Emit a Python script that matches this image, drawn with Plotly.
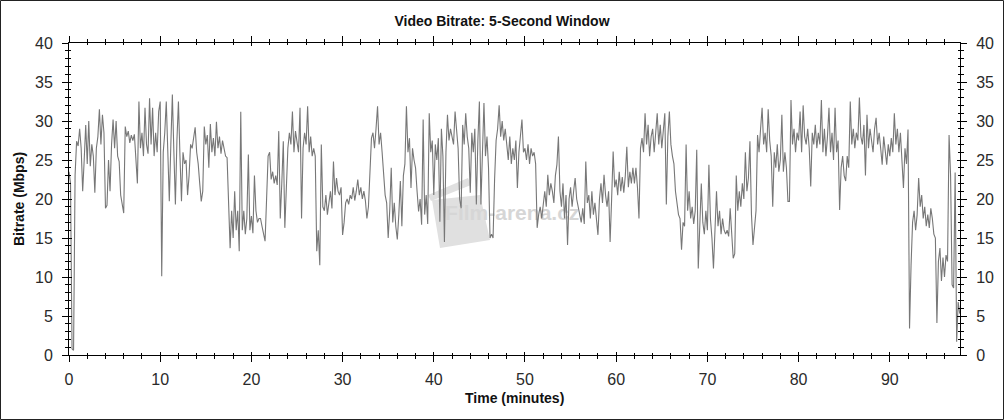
import plotly.graph_objects as go

# ---- data ----
TIME_STEP_MIN = 1 / 6  # one reading every 10 seconds
BITRATE_MBPS = [
    23.5, 22, 0.8, 0.6, 23, 27.4,        # 0
    26.8, 29, 26.5, 21, 25, 29.5,        # 1
    24.5, 30, 24.2, 27, 25.5, 20.8,      # 2
    26.5, 28, 31.5, 27, 30.8, 28.5,      # 3
    18.8, 19.2, 25, 21, 27, 30.2,        # 4
    26.5, 30, 25.5, 24.8, 20.5, 19.5,    # 5
    18.2, 29.3, 28, 28.7, 27.2, 28.2,    # 6
    27.5, 28.3, 25, 22, 32.5, 26.5,      # 7
    28.5, 25.5, 31.7, 27, 25.8, 32.9,    # 8
    27, 31.7, 25.5, 28.5, 26, 31.2,      # 9
    32.5, 10.1, 26, 28.5, 32.5, 25.5,    # 10
    19.7, 27, 33.4, 26, 19.3, 27.5,      # 11
    32.5, 25.5, 19.7, 26, 24.5, 25,      # 12
    20.5, 23, 27, 26.5, 27.8, 29.2,      # 13
    26, 24.5, 22, 19.7, 21, 29.3,        # 14
    27, 28.2, 24, 29.6, 26, 27.8,        # 15
    25.5, 29.9, 26.5, 28, 25.8, 27.5,    # 16
    26.5, 25.5, 25.3, 20.5, 13.7, 18.5,  # 17
    15, 21, 16, 18.5, 13.3, 31.2,        # 18
    16, 18.5, 15.5, 17.5, 25.7, 16,      # 19
    17.8, 15.6, 23, 18.5, 17, 17.5,      # 20
    17.5, 16.5, 15.5, 14.6, 20, 25.5,    # 21
    26, 22.5, 23.5, 22, 23, 21.8,        # 22
    28.7, 17.5, 22, 27.4, 16.3, 21,      # 23
    26.5, 28.5, 27, 31.2, 26, 28.7,      # 24
    27.5, 26, 31.7, 17.5, 26.5, 28.5,    # 25
    27, 31.9, 26, 28, 25.5, 26.5,        # 26
    25.5, 13.3, 16, 11.5, 27, 19,        # 27
    18.5, 20.5, 18, 19.5, 21, 18.8,      # 28
    24.8, 20.5, 22.7, 21, 20.5, 21.5,    # 29
    15.4, 17, 19.5, 20, 19.3, 20.5,      # 30
    20, 21.5, 19.8, 21, 22.5, 20.5,      # 31
    21.5, 20, 21, 19.8, 17.5, 19,        # 32
    24, 27.8, 28.5, 26.5, 29, 31.9,      # 33
    27, 28.5, 26, 23, 20.5, 19.5,        # 34
    15, 18.5, 24, 17, 19.5, 16.5,        # 35
    14.8, 18, 22.3, 16.5, 23, 24.5,      # 36
    31.9, 26, 27.8, 21.4, 26.5, 25,      # 37
    24, 21, 18.4, 20, 16.7, 30.2,        # 38
    18, 20.5, 16.8, 31, 26, 27.5,        # 39
    20.5, 27, 25, 27.8, 17.1, 29,        # 40
    25.5, 14.5, 26, 30.8, 27.5, 29,      # 41
    28, 27, 31.2, 29, 26.5, 20,          # 42
    18.8, 29.5, 27, 31, 28, 26.5,        # 43
    20.8, 28.5, 26, 29, 19.3, 27.5,      # 44
    32.5, 19.3, 27, 32.3, 25.5, 28,      # 45
    24, 15, 15.5, 15, 22.5, 27.5,        # 46
    29, 32, 28, 30, 27.5, 29,            # 47
    27, 25, 28, 24.5, 26.5, 25,          # 48
    27.5, 21.4, 26, 28, 30.2, 26,        # 49
    26.5, 25, 27, 24.5, 26.5, 25.5,      # 50
    26, 24.5, 16.3, 18, 19, 17.5,        # 51
    19.5, 21, 19, 23.1, 20.5, 22,        # 52
    21, 19.5, 23, 24.4, 28, 21,          # 53
    19, 22, 17.5, 20.5, 14.1, 20,        # 54
    21.5, 19, 21, 22.7, 20, 19,          # 55
    18, 17, 18.8, 16.8, 24.8, 19.5,      # 56
    20.5, 17.5, 21, 18, 19.5, 17.2,      # 57
    15.4, 20, 22, 19.5, 23.1, 20.5,      # 58
    19, 21, 14.5, 20, 26.1, 21.5,        # 59
    22.5, 20.5, 23.5, 21, 22.8, 20.8,    # 60
    23, 26.7, 21.5, 23.5, 22, 24,        # 61
    22, 24, 21.5, 17.5, 26.5, 27.8,      # 62
    26, 31, 27, 29.5, 25.5, 28,          # 63
    29, 26, 28.5, 31, 27, 29.5,          # 64
    26.5, 29, 31, 19.3, 28, 31.2,        # 65
    27, 25.5, 24.5, 21, 19.5, 18,        # 66
    17.5, 13.5, 17, 16.5, 27, 18.5,      # 67
    21, 17.5, 19, 16.8, 18.5, 26.3,      # 68
    11.1, 16, 22, 17, 15.5, 18.5,        # 69
    16, 24.4, 17.5, 15, 11.1, 16,        # 70
    21, 16.5, 18.5, 15.5, 17.5, 16,      # 71
    15.5, 16, 15.2, 18.8, 15, 12.4,      # 72
    13, 23, 18.5, 21, 19, 22,            # 73
    20, 26, 21, 22.7, 27.4, 18,          # 74
    14.1, 17, 18.5, 28.2, 26, 29,        # 75
    31.7, 27, 28.5, 26, 31.5, 27.5,      # 76
    25.5, 19, 26, 24, 27, 23.5,          # 77
    25, 30.8, 23.5, 26, 24, 19.7,        # 78
    19.7, 32.7, 27, 29, 26, 28.5,        # 79
    27.5, 31.2, 26, 32, 28, 27,          # 80
    29, 26.5, 21.6, 28.5, 27, 29.5,      # 81
    26.5, 28.5, 27, 32.7, 26, 29,        # 82
    25.5, 28, 31.7, 26, 28.5, 25,        # 83
    31.7, 26, 27.5, 18.6, 24, 25.5,      # 84
    23, 22.3, 25.5, 24, 32.5, 27,        # 85
    29, 26.5, 28.5, 27.5, 33, 28,        # 86
    27, 29.5, 23, 30.8, 26.5, 29,        # 87
    27.5, 26, 29, 30.4, 27, 28.5,        # 88
    26.5, 24.4, 28, 26, 24.4, 27,        # 89
    25.5, 27.8, 26, 31, 27, 29,          # 90
    26, 28.5, 24, 21.4, 26.5, 24.5,      # 91
    28.9, 3.4, 11.5, 17, 18.5, 16,       # 92
    18, 22.7, 19, 20.5, 17.5, 19,        # 93
    16.5, 18, 16.3, 18.8, 17.5, 15.5,    # 94
    15, 4.1, 12, 13.7, 9.5, 12.5,        # 95
    10, 12.8, 12, 28.2, 23, 9,           # 96
    8.6, 23.4, 1.7, 6.8, 5.3,            # 97
]
TIME_MIN = [i * TIME_STEP_MIN for i in range(len(BITRATE_MBPS))]

X_RANGE = [0, 97.7]
Y_RANGE = [0, 40]
X_TICKS = [0, 10, 20, 30, 40, 50, 60, 70, 80, 90]
Y_TICKS = [0, 5, 10, 15, 20, 25, 30, 35, 40]

TITLE = "Video Bitrate: 5-Second Window"
X_TITLE = "Time (minutes)"
Y_TITLE = "Bitrate (Mbps)"
WATERMARK = "Film-arena.cz"

# ---- figure geometry ----
W, H = 1004, 420
L, R, T, B = 69, 44, 43, 65
PW, PH = W - L - R, H - T - B
FONT = "Arial, Liberation Sans, sans-serif"


def px(x):
    return (x - L) / PW


def py(y):
    return (H - B - y) / PH


fig = go.Figure()

# watermark text drawn first so the data line sits on top
fig.add_trace(go.Scatter(
    x=[48.6], y=[18.0], mode="text", text=["<b>" + WATERMARK + "</b>"],
    textfont=dict(family=FONT, size=21, color="#d6d6d6"),
    hoverinfo="skip", showlegend=False, xaxis="x", yaxis="y",
))

fig.add_trace(go.Scatter(
    x=TIME_MIN, y=BITRATE_MBPS, mode="lines",
    line=dict(color="#777777", width=1.1),
    showlegend=False, xaxis="x", yaxis="y",
))
# helper traces so overlay axes are drawn
fig.add_trace(go.Scatter(x=[None], y=[None], xaxis="x2", yaxis="y3",
                         showlegend=False, hoverinfo="skip"))
fig.add_trace(go.Scatter(x=[None], y=[None], xaxis="x", yaxis="y2",
                         showlegend=False, hoverinfo="skip"))

tickfont = dict(family=FONT, size=16, color="#2a2a2a")

fig.update_layout(
    width=W, height=H,
    margin=dict(l=L, r=R, t=T, b=B, autoexpand=False),
    paper_bgcolor="white", plot_bgcolor="white",
    font=dict(family=FONT, color="#111"),
    title=dict(text="<b>" + TITLE + "</b>", x=0.5, xref="container",
               y=1 - 21 / H, yref="container", yanchor="middle", xanchor="center",
               font=dict(family=FONT, size=14, color="#111")),
    xaxis=dict(range=X_RANGE, tickvals=X_TICKS, ticks="outside", ticklen=6,
               tickcolor="black", tickwidth=1, showline=True, linecolor="black",
               linewidth=1, mirror="ticks", showgrid=False, zeroline=False,
               minor=dict(dtick=2, tick0=0, ticks="outside", ticklen=3,
                          tickcolor="black", showgrid=False),
               tickfont=tickfont, ticklabelstandoff=4),
    xaxis2=dict(range=X_RANGE, overlaying="x", tickvals=X_TICKS, ticks="inside",
                ticklen=3, tickcolor="black", mirror="ticks", showline=False,
                showgrid=False, zeroline=False, showticklabels=False,
                minor=dict(dtick=2, tick0=0, ticks="inside", ticklen=2,
                           tickcolor="black", showgrid=False)),
    yaxis=dict(range=Y_RANGE, tickvals=Y_TICKS, ticks="outside", ticklen=6,
               tickcolor="black", tickwidth=1, showline=True, linecolor="black",
               linewidth=1, mirror="ticks", showgrid=False, zeroline=False,
               minor=dict(dtick=1, tick0=0, ticks="outside", ticklen=3,
                          tickcolor="black", showgrid=False),
               tickfont=tickfont, ticklabelstandoff=6),
    yaxis2=dict(range=Y_RANGE, overlaying="y", side="right", tickvals=Y_TICKS,
                ticks="outside", ticklen=6, tickcolor="rgba(0,0,0,0)",
                showline=False, showgrid=False, zeroline=False,
                tickfont=tickfont, ticklabelstandoff=6),
    yaxis3=dict(range=Y_RANGE, overlaying="y", tickvals=Y_TICKS, ticks="inside",
                ticklen=3, tickcolor="black", mirror="ticks", showline=False,
                showgrid=False, zeroline=False, showticklabels=False,
                minor=dict(dtick=1, tick0=0, ticks="inside", ticklen=2,
                           tickcolor="black", showgrid=False)),
)

# axis titles
fig.add_annotation(text="<b>" + X_TITLE + "</b>", xref="paper", yref="paper",
                   x=0.5, y=py(398), showarrow=False, xanchor="center",
                   yanchor="middle", font=dict(family=FONT, size=14, color="#111"))
fig.add_annotation(text="<b>" + Y_TITLE + "</b>", xref="paper", yref="paper",
                   x=px(19), y=0.5, showarrow=False, textangle=-90,
                   xanchor="center", yanchor="middle",
                   font=dict(family=FONT, size=14, color="#111"))

# watermark clapperboard (decoration, light gray, below data)
body = [(432, 200), (480, 195), (490, 240), (440, 248)]
clap = [(428, 195), (468, 178), (471, 185), (431, 201)]
for poly in (body, clap):
    path = "M " + " L ".join(f"{px(a):.4f},{py(b):.4f}" for a, b in poly) + " Z"
    fig.add_shape(type="path", path=path, xref="paper", yref="paper",
                  fillcolor="#e0e0e0", line=dict(width=0), layer="below")

# outer frame
fig.add_shape(type="rect", xref="paper", yref="paper",
              x0=px(0.5), x1=px(W - 0.5), y0=py(H - 0.5), y1=py(0.5),
              line=dict(color="#222", width=1), layer="above")

fig.write_html(
    "out.html",
    config={"displayModeBar": False},
    post_script="document.body.style.margin='0px';document.body.style.overflow='hidden';",
)
